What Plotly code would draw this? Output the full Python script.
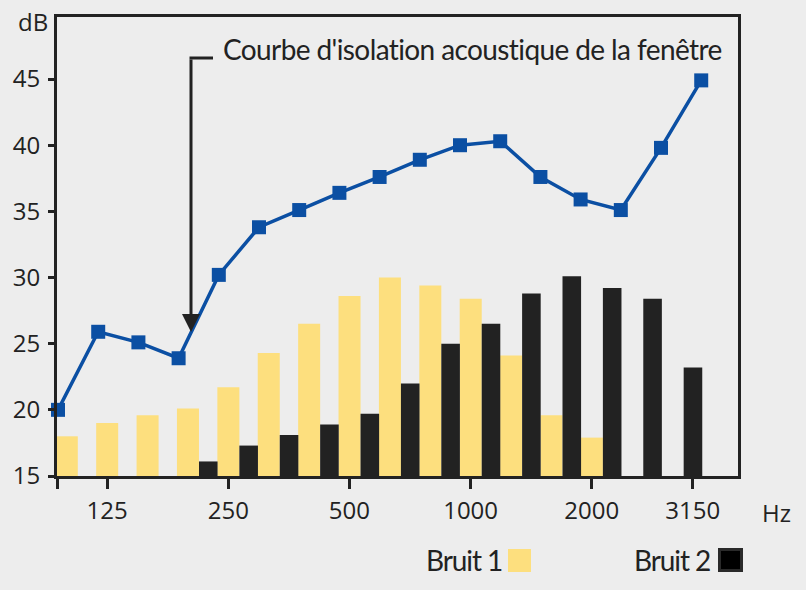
import plotly.graph_objects as go

# ---------------- data ----------------
bands = ["100", "125", "160", "200", "250", "315", "400", "500", "630", "800",
         "1000", "1250", "1600", "2000", "2500", "3150"]
bruit1 = [18.0, 19.0, 19.6, 20.1, 21.7, 24.3, 26.5, 28.6, 30.0, 29.4,
          28.4, 24.1, 19.6, 17.9, None, None]
bruit2 = [None, None, None, 16.1, 17.3, 18.1, 18.9, 19.7, 22.0, 25.0,
          26.5, 28.8, 30.1, 29.2, 28.4, 23.2]
curve_freqs = ["80", "100", "125", "160", "200", "250", "315", "400", "500", "630",
               "800", "1000", "1250", "1600", "2000", "2500", "3150"]
curve_db = [20.0, 25.9, 25.1, 23.9, 30.2, 33.8, 35.1, 36.4, 37.6, 38.9,
            40.0, 40.3, 37.6, 35.9, 35.1, 39.8, 44.9]
shown_ticks = ["125", "250", "500", "1000", "2000", "3150"]
y_ticks = [15, 20, 25, 30, 35, 40, 45]

YELLOW = "#fddf7e"
BLACK = "#222222"
BLUE = "#0b4fa3"
BG = "#ededed"
INK = "#222222"
TICKFONT = "Open Sans, Noto Sans, sans-serif"
CONDFONT = "Lato, Roboto, sans-serif"

W, H = 806, 590
L, R, T, B = 57, 738, 17, 476  # plot area in pixels


def px(xp):
    return (xp - L) / (R - L)


def py(yp):
    return (B - yp) / (B - T)


idx = list(range(len(bands)))
cidx = list(range(len(curve_freqs)))

fig = go.Figure()
fig.add_trace(go.Bar(x=idx, y=[None if v is None else v - 15 for v in bruit1], base=15,
                     offset=-0.27, width=0.545, marker=dict(color=YELLOW, line_width=0),
                     name="Bruit 1", showlegend=False))
fig.add_trace(go.Bar(x=idx, y=[None if v is None else v - 15 for v in bruit2], base=15,
                     offset=0.275, width=0.46, marker=dict(color=BLACK, line_width=0),
                     name="Bruit 2", showlegend=False))
fig.add_trace(go.Scatter(x=cidx, y=curve_db, mode="lines+markers", xaxis="x2",
                         line=dict(color=BLUE, width=3.5),
                         marker=dict(symbol="square", size=14, color=BLUE),
                         cliponaxis=False, showlegend=False))

# x tick positions: yellow-bar centre for most, black-bar centre for 3150
tickpos = []
for lab in shown_ticks:
    k = bands.index(lab)
    tickpos.append(k + 0.5 if bruit1[k] is None else k)

xr = [-0.24, 16.62]
fig.update_layout(
    width=W, height=H,
    paper_bgcolor=BG, plot_bgcolor=BG,
    margin=dict(l=L, r=W - R, t=T, b=H - B),
    barmode="overlay",
    xaxis=dict(range=xr, showgrid=False, zeroline=False,
               showline=True, linewidth=3, linecolor=INK, mirror=True,
               tickmode="array", tickvals=[xr[0] + 0.02] + tickpos,
               ticktext=[""] + shown_ticks,
               ticks="outside", ticklen=10, tickwidth=3, tickcolor=INK,
               tickfont=dict(family=TICKFONT, size=24, color=INK),
               ticklabelstandoff=1),
    xaxis2=dict(range=[-0.025, 16.915], overlaying="x", visible=False),
    yaxis=dict(range=[15, 49.69], showgrid=False, zeroline=False,
               showline=True, linewidth=3, linecolor=INK, mirror=True,
               tickmode="array", tickvals=y_ticks,
               ticks="outside", ticklen=6, tickwidth=3, tickcolor=INK,
               tickfont=dict(family=TICKFONT, size=24, color=INK),
               ticklabelstandoff=3),
    yaxis2=dict(range=[15, 49.69], overlaying="y", showgrid=False, zeroline=False,
                tickmode="array", tickvals=y_ticks[1:], showticklabels=False,
                ticks="inside", ticklen=12, tickwidth=3, tickcolor=INK),
)

annotations = [
    dict(text="dB", x=px(50), y=py(21), xref="paper", yref="paper",
         xanchor="right", yanchor="middle", showarrow=False,
         font=dict(family=TICKFONT, size=24, color=INK)),
    dict(text="Hz", x=px(776), y=py(512), xref="paper", yref="paper",
         xanchor="center", yanchor="middle", showarrow=False,
         font=dict(family=TICKFONT, size=24, color=INK)),
    dict(text="<span style='letter-spacing:-0.6px'>Courbe d'isolation acoustique de la fenêtre</span>",
         x=px(221), y=py(49),
         xref="paper", yref="paper", xanchor="left", yanchor="middle", showarrow=False,
         font=dict(family=CONDFONT, size=28, color=INK)),
    dict(text="", x=px(191), y=py(332), xref="paper", yref="paper",
         ax=0, ay=58 - 332, axref="pixel", ayref="pixel",
         showarrow=True, arrowhead=2, arrowsize=1.2, arrowwidth=3, arrowcolor=INK,
         standoff=0),
    dict(text="<span style='letter-spacing:-1.1px'>Bruit 1</span>", x=px(504), y=py(560),
         xref="paper", yref="paper",
         xanchor="right", yanchor="middle", showarrow=False,
         font=dict(family=CONDFONT, size=28, color=INK)),
    dict(text="<span style='letter-spacing:-1.1px'>Bruit 2</span>", x=px(712), y=py(560),
         xref="paper", yref="paper",
         xanchor="right", yanchor="middle", showarrow=False,
         font=dict(family=CONDFONT, size=28, color=INK)),
]
fig.update_layout(annotations=annotations)

shapes = [
    dict(type="line", xref="paper", yref="paper", x0=px(189.5), x1=px(213),
         y0=py(58), y1=py(58), line=dict(color=INK, width=3)),
    dict(type="rect", xref="paper", yref="paper", x0=px(508), x1=px(531),
         y0=py(572), y1=py(549), fillcolor=YELLOW, line_width=0),
    dict(type="rect", xref="paper", yref="paper", x0=px(719.5), x1=px(741.5),
         y0=py(570.5), y1=py(549.5), fillcolor="#000000",
         line=dict(color="#2a2a2a", width=3)),
]
fig.update_layout(shapes=shapes)

fig.write_html("out.html")
